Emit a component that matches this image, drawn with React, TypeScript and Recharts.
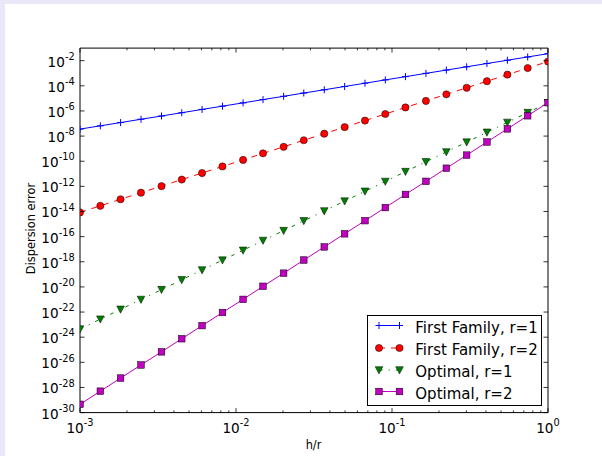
import { LineChart, Line, XAxis, YAxis, Legend, Label } from "recharts";

// h/r sample points (log-spaced)
const hr = [
  0.001, 0.00135, 0.00182, 0.00246, 0.00333, 0.00449, 0.00606, 0.00819,
  0.0111, 0.0149, 0.0202, 0.0272, 0.0368, 0.0497, 0.0671, 0.0906,
  0.122, 0.165, 0.223, 0.301, 0.406, 0.549, 0.741, 1.0,
];

const firstR1 = [
  3.59e-8, 6.55e-8, 1.19e-7, 2.18e-7, 3.96e-7, 7.23e-7, 1.32e-6, 2.4e-6,
  4.39e-6, 8.0e-6, 1.46e-5, 2.66e-5, 4.84e-5, 8.83e-5, 1.61e-4, 2.94e-4,
  5.36e-4, 9.77e-4, 1.78e-3, 3.25e-3, 5.92e-3, 1.08e-2, 1.97e-2, 3.59e-2,
];

const firstR2 = [
  8.51e-15, 2.83e-14, 9.4e-14, 3.13e-13, 1.04e-12, 3.46e-12, 1.15e-11, 3.82e-11,
  1.27e-10, 4.23e-10, 1.4e-9, 4.67e-9, 1.55e-8, 5.16e-8, 1.71e-7, 5.7e-7,
  1.9e-6, 6.31e-6, 2.09e-5, 6.97e-5, 2.32e-4, 7.71e-4, 2.56e-3, 8.51e-3,
];

const optR1 = [
  4.47e-24, 2.71e-23, 1.64e-22, 9.95e-22, 6.03e-21, 3.66e-20, 2.22e-19, 1.34e-18,
  8.15e-18, 4.93e-17, 2.99e-16, 1.82e-15, 1.1e-14, 6.67e-14, 4.05e-13, 2.45e-12,
  1.49e-11, 9.0e-11, 5.46e-10, 3.31e-9, 2.0e-8, 1.22e-7, 7.36e-7, 4.47e-6,
];

const optR2 = [
  4.57e-30, 5.05e-29, 5.58e-28, 6.17e-27, 6.82e-26, 7.53e-25, 8.33e-24, 9.2e-23,
  1.02e-21, 1.12e-20, 1.24e-19, 1.37e-18, 1.52e-17, 1.68e-16, 1.86e-15, 2.05e-14,
  2.27e-13, 2.51e-12, 2.77e-11, 3.06e-10, 3.39e-9, 3.74e-8, 4.14e-7, 4.57e-6,
];

const xMajor = [0.001, 0.01, 0.1, 1];
const xMinor = [
  0.002, 0.003, 0.004, 0.005, 0.006, 0.007, 0.008, 0.009,
  0.02, 0.03, 0.04, 0.05, 0.06, 0.07, 0.08, 0.09,
  0.2, 0.3, 0.4, 0.5, 0.6, 0.7, 0.8, 0.9,
];
const yTicks = [
  1e-30, 1e-28, 1e-26, 1e-24, 1e-22, 1e-20, 1e-18, 1e-16,
  1e-14, 1e-12, 1e-10, 1e-8, 1e-6, 1e-4, 1e-2,
];

const seriesNames = [
  "First Family, r=1",
  "First Family, r=2",
  "Optimal, r=1",
  "Optimal, r=2",
];

const data = hr.map((h, i) => ({
  h,
  f1: firstR1[i],
  f2: firstR2[i],
  o1: optR1[i],
  o2: optR2[i],
}));

const FONT = "DejaVu Sans, Bitstream Vera Sans, sans-serif";
const BLUE = "#0000ff";
const RED = "#ff0000";
const GREEN = "#008000";
const MAGENTA = "#bf00bf";

const isMajorX = (v: number) => xMajor.some((m) => Math.abs(m - v) < m * 1e-6);
const expOf = (v: number) => String(Math.round(Math.log10(v)));

// marker shapes
const PlusMark = ({ cx, cy }: any) => (
  <g>
    <line x1={cx - 3.5} y1={cy} x2={cx + 3.5} y2={cy} stroke={BLUE} strokeWidth={1} />
    <line x1={cx} y1={cy - 3.5} x2={cx} y2={cy + 3.5} stroke={BLUE} strokeWidth={1} />
  </g>
);
const CircleMark = ({ cx, cy }: any) => (
  <circle cx={cx} cy={cy} r={3.6} fill={RED} stroke="#000" strokeWidth={0.5} />
);
const TriMark = ({ cx, cy }: any) => (
  <polygon
    points={`${cx - 3.8},${cy - 3.3} ${cx + 3.8},${cy - 3.3} ${cx},${cy + 3.9}`}
    fill={GREEN}
    stroke="#000"
    strokeWidth={0.5}
  />
);
const SquareMark = ({ cx, cy }: any) => (
  <rect x={cx - 3.3} y={cy - 3.3} width={6.6} height={6.6} fill={MAGENTA} stroke="#000" strokeWidth={0.5} />
);

// ticks: drawn inward from the frame
const BottomTick = ({ x, y, payload }: any) => {
  const v = payload.value;
  const major = isMajorX(v);
  return (
    <g>
      <line x1={x} y1={y} x2={x} y2={y - (major ? 4.5 : 2.2)} stroke="#000" strokeWidth={0.8} />
      {major && (
        <text x={x} y={y + 20.3} textAnchor="middle" fontFamily={FONT} fill="#000">
          <tspan fontSize={13.6}>10</tspan>
          <tspan fontSize={9.8} dy={-6.8}>{expOf(v)}</tspan>
        </text>
      )}
    </g>
  );
};
const TopTick = ({ x, y, payload }: any) => {
  const major = isMajorX(payload.value);
  return <line x1={x} y1={y} x2={x} y2={y + (major ? 4.5 : 2.2)} stroke="#000" strokeWidth={0.8} />;
};
const LeftTick = ({ x, y, payload }: any) => (
  <g>
    <line x1={x} y1={y} x2={x + 4.5} y2={y} stroke="#000" strokeWidth={0.8} />
    <text x={x - 5.3} y={y + 6} textAnchor="end" fontFamily={FONT} fill="#000">
      <tspan fontSize={13.6}>10</tspan>
      <tspan fontSize={9.8} dy={-6.8}>{expOf(payload.value)}</tspan>
    </text>
  </g>
);
const RightTick = ({ x, y }: any) => (
  <line x1={x} y1={y} x2={x - 4.5} y2={y} stroke="#000" strokeWidth={0.8} />
);

const legendRows = [
  { name: seriesNames[0], color: BLUE, dash: undefined, Mark: PlusMark },
  { name: seriesNames[1], color: RED, dash: "6 6", Mark: CircleMark },
  { name: seriesNames[2], color: GREEN, dash: "3.6 6 1.2 6", Mark: TriMark },
  { name: seriesNames[3], color: MAGENTA, dash: undefined, Mark: SquareMark },
];
const legendRowY = [10.5, 33, 55, 76.5];

const LegendBox = () => (
  <svg width={175} height={91} style={{ display: "block" }}>
    <rect x={0.5} y={0.5} width={174} height={90} fill="#fff" stroke="#000" strokeWidth={1} />
    {legendRows.map((r, i) => {
      const cy = legendRowY[i];
      return (
        <g key={r.name}>
          <line x1={12} y1={cy} x2={32.5} y2={cy} stroke={r.color} strokeWidth={1} strokeDasharray={r.dash} />
          <r.Mark cx={12} cy={cy} />
          <r.Mark cx={32.5} cy={cy} />
          <text x={48.3} y={cy + 7.3} fontFamily={FONT} fontSize={15} fill="#000">
            {r.name}
          </text>
        </g>
      );
    })}
  </svg>
);

export default function App() {
  return (
    <div
      style={{
        position: "absolute",
        left: 0,
        top: 0,
        width: 602,
        height: 456,
        background: "#e9e7f8",
        overflow: "hidden",
      }}
    >
      <div
        style={{
          position: "absolute",
          left: 5,
          top: 4,
          width: 597,
          height: 452,
          background: "#fff",
        }}
      />
      <div style={{ position: "absolute", left: 0, top: 0 }}>
        <LineChart
          width={602}
          height={456}
          data={data}
          margin={{ top: 38.1, right: 44, bottom: 3.4, left: 20 }}
        >
          <XAxis
            xAxisId="bottom"
            dataKey="h"
            type="number"
            scale="log"
            domain={[0.001, 1]}
            allowDataOverflow
            ticks={[...xMajor, ...xMinor]}
            interval={0}
            tickSize={0}
            tickMargin={0}
            height={40}
            axisLine={{ stroke: "#000", strokeWidth: 1 }}
            tick={BottomTick}
          >
            <Label
              content={() => (
                <text x={313.5} y={448.5} textAnchor="middle" fontFamily={FONT} fontSize={11.4} fill="#000">
                  h/r
                </text>
              )}
            />
          </XAxis>
          <XAxis
            xAxisId="top"
            orientation="top"
            dataKey="h"
            type="number"
            scale="log"
            domain={[0.001, 1]}
            allowDataOverflow
            ticks={[...xMajor, ...xMinor]}
            interval={0}
            tickSize={0}
            tickMargin={0}
            height={10}
            axisLine={{ stroke: "#000", strokeWidth: 1 }}
            tick={TopTick}
          />
          <YAxis
            yAxisId="left"
            type="number"
            scale="log"
            domain={[1e-30, 1e-1]}
            allowDataOverflow
            ticks={yTicks}
            interval={0}
            tickSize={0}
            tickMargin={0}
            width={60}
            axisLine={{ stroke: "#000", strokeWidth: 1 }}
            tick={LeftTick}
          >
            <Label
              content={() => (
                <text
                  x={34.7}
                  y={228.5}
                  transform="rotate(-90 34.7 228.5)"
                  textAnchor="middle"
                  fontFamily={FONT}
                  fontSize={11.4}
                  fill="#000"
                >
                  Dispersion error
                </text>
              )}
            />
          </YAxis>
          <YAxis
            yAxisId="right"
            orientation="right"
            type="number"
            scale="log"
            domain={[1e-30, 1e-1]}
            allowDataOverflow
            ticks={yTicks}
            interval={0}
            tickSize={0}
            tickMargin={0}
            width={10}
            axisLine={{ stroke: "#000", strokeWidth: 1 }}
            tick={RightTick}
          />
          <Line
            xAxisId="bottom"
            yAxisId="left"
            dataKey="f1"
            name={seriesNames[0]}
            stroke={BLUE}
            strokeWidth={1}
            isAnimationActive={false}
            dot={(p: any) => <PlusMark key={p.index} cx={p.cx} cy={p.cy} />}
          />
          <Line
            xAxisId="bottom"
            yAxisId="left"
            dataKey="f2"
            name={seriesNames[1]}
            stroke={RED}
            strokeWidth={1}
            strokeDasharray="6 6"
            isAnimationActive={false}
            dot={(p: any) => <CircleMark key={p.index} cx={p.cx} cy={p.cy} />}
          />
          <Line
            xAxisId="bottom"
            yAxisId="left"
            dataKey="o1"
            name={seriesNames[2]}
            stroke={GREEN}
            strokeWidth={1}
            strokeDasharray="3.6 6 1.2 6"
            isAnimationActive={false}
            dot={(p: any) => <TriMark key={p.index} cx={p.cx} cy={p.cy} />}
          />
          <Line
            xAxisId="bottom"
            yAxisId="left"
            dataKey="o2"
            name={seriesNames[3]}
            stroke={MAGENTA}
            strokeWidth={1}
            isAnimationActive={false}
            dot={(p: any) => <SquareMark key={p.index} cx={p.cx} cy={p.cy} />}
          />
          <Legend
            layout="vertical"
            align="center"
            verticalAlign="middle"
            wrapperStyle={{ left: 366.5, top: 314.5, width: 175, height: 91 }}
            content={LegendBox}
          />
        </LineChart>
      </div>
    </div>
  );
}
